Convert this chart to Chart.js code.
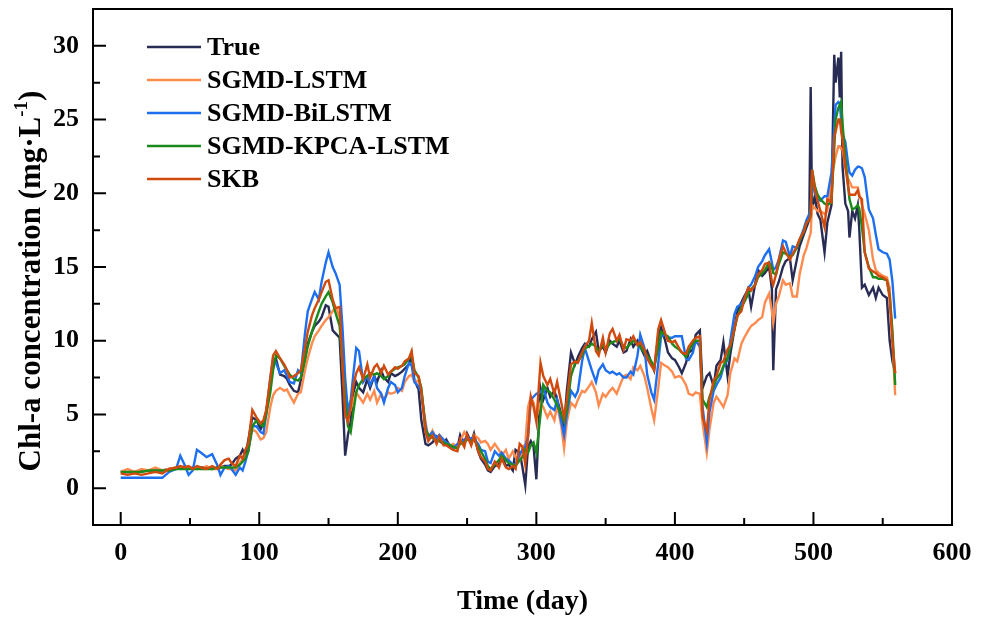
<!DOCTYPE html>
<html>
<head>
<meta charset="utf-8">
<title>Chl-a prediction</title>
<script src="https://cdn.jsdelivr.net/npm/chart.js@4.4.1/dist/chart.umd.min.js"></script>
<style>
  html, body { margin: 0; padding: 0; background: #fff; }
  #wrap { width: 986px; height: 619px; position: relative; }
</style>
</head>
<body>
<div id="wrap"><canvas id="chl-chart"></canvas></div>
<script>
// days of the test period
const days = [
  0, 5, 10, 15, 20, 25, 30, 35, 40,
  43, 46, 49, 52, 55, 58, 62, 66, 70, 72, 75, 78, 80, 83, 86, 88, 90, 92,
  95, 98, 101, 103, 105, 108, 110, 112, 115, 118, 120, 122, 125, 128, 130,
  133, 135, 138, 140, 143, 145, 148, 150, 153, 155, 158, 160, 162, 164, 166, 168, 170, 172, 175, 178, 180,
  183, 185, 188, 190, 193, 195, 198, 200, 203, 205, 208, 210, 212, 215, 217, 220, 222, 225, 228, 230,
  233, 235, 238, 240, 243, 245, 248, 250, 253, 255, 258, 260, 263, 265, 267, 270, 273, 275, 278, 280, 283, 285, 288, 290,
  292, 294, 296, 298, 300, 303, 305, 308, 310, 313, 315, 318, 320, 322, 325, 328, 330, 333, 335, 338, 340, 343, 345, 348, 350,
  353, 355, 358, 360, 363, 365, 368, 370, 373, 375, 378, 380, 383, 385, 388, 390, 393, 395, 398, 400, 403, 405, 408, 410, 413, 415, 418,
  420, 423, 425, 428, 430, 433, 435, 438, 440, 443, 445, 448, 450, 453, 455, 458, 460, 463, 465, 468, 470, 471, 473, 475, 478, 480, 483, 485, 488, 490, 493, 495, 497,
  498, 499, 501, 503, 505, 508, 510, 513, 515, 516, 518, 519, 520, 521, 523, 525, 526, 528, 530, 532, 533, 535, 537, 540, 543, 545, 547, 550, 553, 555, 557, 559
];

const trueValues = [
  1.1, 1.1, 1.1, 1.2, 1.2, 1.2, 1.2, 1.3, 1.3,
  1.4, 1.4, 1.3, 1.4, 1.3, 1.4, 1.4, 1.3, 1.4, 1.4, 1.5, 1.5, 1.6, 2.0, 2.2, 2.6, 2.2, 3.2,
  4.8, 4.6, 4.0, 4.4, 5.2, 7.0, 8.3, 8.8, 7.7, 7.6, 7.4, 7.0, 6.6, 6.5, 7.3,
  8.8, 9.8, 10.6, 11.0, 11.3, 11.6, 12.4, 12.3, 10.7, 10.5, 10.2, 6.5, 2.2, 3.6, 4.5, 6.5, 7.2, 6.8, 6.5, 7.4, 6.8,
  7.6, 7.2, 8.0, 7.5, 7.2, 7.8, 7.6, 7.7, 7.9, 8.1, 8.4, 9.0, 7.3, 6.7, 4.6, 3.0, 2.9, 3.1, 3.5, 3.2,
  3.0, 3.3, 2.8, 2.9, 2.7, 3.6, 3.0, 3.7, 3.1, 3.7, 2.5, 2.0, 1.6, 1.2, 1.1, 1.5, 1.6, 2.3, 1.5, 1.6, 1.2, 2.6, 2.4, 1.4,
  0.2, 2.8, 3.2, 2.8, 0.6, 6.8, 6.0, 6.8, 6.2, 6.6, 6.0, 5.0, 4.1, 6.6, 9.2, 8.4, 8.9, 9.5, 9.8, 9.6, 10.1, 10.6, 9.3, 9.6, 9.2,
  10.0, 9.8, 9.6, 10.0, 9.2, 9.3, 10.1, 9.6, 10.0, 9.6, 9.0, 9.3, 8.5, 8.0, 10.3, 10.9, 10.0, 9.2, 8.8, 8.7, 8.2, 7.8, 8.5, 9.2, 9.4, 10.4, 10.7,
  6.8, 7.6, 7.8, 6.9, 8.3, 8.7, 9.9, 7.6, 9.1, 10.8, 12.0, 12.6, 13.0, 13.5, 12.3, 13.9, 14.8, 14.4, 14.6, 15.0, 13.5, 8.0, 13.5, 14.0, 15.0, 15.4, 15.6, 14.1, 15.5, 16.4, 17.2, 17.7, 18.2,
  27.2, 18.9, 19.8, 18.6, 18.2, 16.0, 18.0, 19.2, 29.4, 27.5, 29.2, 26.5, 29.6, 21.8, 19.3, 18.8, 17.0, 18.8, 18.3, 19.2, 17.7, 13.6, 13.8, 13.1, 13.6, 12.9, 13.6, 13.1, 12.9, 10.0, 8.6, 7.8
];

const sgmdLstm = [
  1.1, 1.3, 1.1, 1.3, 1.2, 1.4, 1.2, 1.3, 1.4,
  1.3, 1.5, 1.4, 1.3, 1.4, 1.3, 1.5, 1.3, 1.3, 1.5, 1.4, 1.3, 1.3, 1.2, 1.7, 2.0, 2.2, 2.4,
  4.0, 3.8, 3.3, 3.4, 3.8, 5.5, 6.3, 6.6, 6.8, 6.6, 6.7, 6.3, 5.8, 6.4, 6.5,
  8.0, 8.8, 9.8, 10.3, 10.7, 11.0, 11.4, 11.6, 12.0, 12.3, 11.6, 8.5, 5.8, 4.8, 5.3, 6.0, 6.5, 6.2, 5.8, 6.4, 6.0,
  6.6, 5.8, 6.4, 6.0, 6.5, 6.4, 6.5, 6.8, 6.6, 7.2, 7.6, 7.7, 7.2, 7.3, 6.5, 4.5, 3.4, 3.9, 3.3, 3.6,
  3.2, 3.1, 2.9, 3.0, 2.8, 3.2, 3.8, 3.5, 3.0, 3.6, 3.4, 3.1, 3.2, 3.0, 2.6, 3.0, 2.6, 2.2, 2.6, 2.0, 2.5, 2.1, 1.9, 2.7,
  3.0, 5.5, 6.2, 5.8, 4.8, 5.8, 5.5, 4.8, 5.2, 4.6, 5.6, 4.2, 2.7, 4.5, 5.8, 5.5, 6.0, 6.6, 6.5, 6.9, 7.2, 6.5, 5.6, 6.4, 6.2,
  6.6, 6.8, 6.4, 6.9, 7.6, 7.7, 7.4, 8.2, 8.0, 8.3, 7.6, 6.8, 5.4, 4.6, 6.8, 8.5, 8.3, 8.2, 7.9, 7.5, 7.6, 7.5, 7.0, 6.4, 6.3, 6.5, 6.4,
  4.4, 2.4, 4.0, 5.8, 6.2, 5.8, 5.5, 6.3, 7.8, 8.8, 8.6, 9.8, 10.2, 10.7, 11.0, 11.2, 11.4, 11.6, 12.6, 13.2, 12.0, 11.2, 12.5, 13.0, 14.1, 13.8, 13.9, 13.0, 13.0, 14.5, 15.8, 16.3, 17.0,
  17.3, 19.2, 19.0, 18.8, 18.8, 18.6, 18.8, 21.0, 22.0, 22.5, 23.2, 23.2, 23.0, 23.0, 21.8, 21.0, 20.8, 20.4, 20.4, 20.4, 20.0, 19.2, 18.6, 17.5, 15.5, 14.8, 14.6, 14.4, 14.3, 13.6, 10.0, 6.3
];

const sgmdBiLstm = [
  0.7, 0.7, 0.7, 0.7, 0.7, 0.7, 0.7, 1.1, 1.3,
  2.2, 1.6, 0.9, 1.2, 2.6, 2.4, 2.1, 2.3, 1.5, 0.9, 1.4, 1.5, 1.3, 0.9, 1.4, 1.2, 1.8, 2.5,
  4.2, 4.2, 3.8, 3.7, 5.0, 7.5, 8.8, 8.5, 7.8, 8.0, 7.6, 7.2, 7.1, 8.0, 7.8,
  10.5, 12.0, 12.8, 13.3, 12.8, 14.0, 15.3, 16.0, 15.0, 14.6, 13.8, 11.0, 7.5, 5.2, 6.0, 7.8, 9.5, 9.3, 7.2, 7.6, 7.0,
  7.6, 6.8, 6.4, 5.8, 6.8, 7.2, 7.0, 6.5, 6.8, 7.6, 8.5, 8.3, 7.2, 6.9, 6.5, 4.2, 3.5, 3.8, 3.4, 3.6,
  3.3, 3.1, 2.9, 2.7, 3.0, 3.0, 3.3, 3.3, 3.4, 3.3, 3.0, 2.6, 2.5, 1.8, 1.7, 2.5, 2.2, 2.4, 2.0, 1.9, 1.6, 1.6, 2.3, 2.6,
  2.8, 3.5, 6.0, 6.2, 6.4, 6.5, 6.8, 5.8, 5.5, 5.3, 6.0, 4.5, 3.6, 5.0, 6.6, 6.2, 6.6, 8.6, 9.5, 8.6, 8.0, 7.2, 8.0, 8.4, 8.0,
  7.8, 7.9, 7.7, 7.8, 7.5, 7.5, 7.9, 7.7, 9.0, 10.4, 9.5, 7.7, 6.5, 6.0, 8.5, 10.3, 10.4, 10.2, 10.2, 10.3, 10.3, 10.3, 8.8, 8.7, 9.2, 10.0, 9.6,
  5.5, 3.1, 5.2, 6.6, 7.0, 7.5, 8.2, 8.7, 10.0, 11.8, 12.3, 12.5, 12.8, 13.6, 13.8, 14.4, 15.0, 15.4, 15.8, 16.2, 15.3, 14.8, 15.0, 15.5, 16.8, 16.7, 15.7, 16.4, 16.3, 16.8, 17.6, 18.2, 18.6,
  19.0, 21.0, 20.0, 19.6, 19.5, 19.8, 19.8, 21.4, 24.5, 26.0, 26.2, 26.1, 25.0, 24.0, 23.5, 22.0, 21.4, 21.2, 21.6, 21.8, 21.8, 21.7, 21.1, 18.9, 18.3, 17.2, 16.2, 16.0, 15.9, 15.5, 14.0, 11.5
];

const sgmdKpcaLstm = [
  1.1, 1.1, 1.1, 1.1, 1.2, 1.2, 1.2, 1.2, 1.3,
  1.3, 1.3, 1.3, 1.3, 1.3, 1.3, 1.3, 1.3, 1.4, 1.4, 1.4, 1.4, 1.4, 1.4, 1.6, 1.8, 2.0, 2.5,
  4.2, 4.6, 4.3, 4.2, 5.0, 6.5, 8.0, 9.0, 8.8, 8.3, 8.0, 7.7, 7.4, 7.3, 7.5,
  8.7, 9.6, 10.6, 11.2, 12.0, 12.5, 13.0, 13.3, 12.6, 11.9, 11.0, 8.5, 6.0, 4.2, 3.8, 5.2, 6.5, 7.0, 7.4, 7.6, 7.8,
  7.7, 7.8, 7.6, 7.4, 7.6, 7.9, 8.1, 8.2, 8.3, 8.4, 8.8, 9.0, 8.0, 7.5, 6.8, 4.0, 3.6, 3.4, 3.2, 3.2,
  3.1, 3.0, 2.9, 2.8, 2.7, 3.0, 3.1, 3.3, 3.2, 3.3, 2.8, 2.5, 2.0, 1.5, 1.3, 1.6, 1.9, 2.2, 1.9, 1.7, 1.6, 1.5, 1.9, 2.1,
  2.6, 2.4, 2.9, 3.1, 2.4, 5.0, 7.0, 6.6, 6.5, 6.0, 5.6, 5.0, 4.5, 5.3, 7.6, 8.5, 8.6, 9.0, 9.5, 9.6, 9.8, 9.6, 9.3, 9.7, 9.4,
  9.8, 9.9, 10.0, 10.1, 9.6, 9.5, 9.8, 10.0, 9.8, 9.6, 9.2, 9.0, 8.6, 8.2, 9.5, 10.6, 10.4, 10.3, 9.8, 9.6, 9.4, 9.2, 8.9, 9.3, 9.8, 10.0, 10.0,
  6.0, 5.5, 6.2, 6.9, 7.4, 7.8, 8.3, 8.8, 9.6, 10.8, 11.6, 12.3, 12.6, 13.2, 13.5, 13.8, 14.3, 14.6, 14.8, 15.3, 15.0, 14.6, 14.5, 15.2, 16.0, 15.9, 15.7, 15.8, 16.3, 16.8, 17.4, 18.0, 18.2,
  18.5, 21.6, 20.5, 19.9, 19.6, 19.3, 19.2, 19.4, 23.0, 25.0, 25.8, 26.0, 26.2, 24.7, 22.5, 20.5, 19.6, 18.9, 19.0, 19.2, 19.0, 17.7, 16.0, 15.0, 14.3, 14.3, 14.2, 14.2, 14.1, 13.1, 10.7, 7.0
];

const skb = [
  1.0, 0.9, 1.0, 0.9, 1.0, 1.1, 1.0, 1.3, 1.4,
  1.5, 1.4, 1.5, 1.3, 1.5, 1.4, 1.3, 1.5, 1.3, 1.6, 1.9, 2.0, 1.7, 1.5, 2.2, 2.0, 2.6, 3.0,
  5.3, 4.8, 4.4, 4.6, 5.3, 7.5, 9.0, 9.3, 8.8, 8.4, 8.0, 7.5, 7.6, 7.8, 8.0,
  9.5, 10.6, 11.7, 12.2, 12.8, 13.3, 14.0, 14.1, 12.8, 12.2, 12.3, 8.5, 5.0, 4.5, 5.5, 7.0, 7.8, 8.2, 7.4, 8.4, 7.5,
  8.2, 8.4, 7.8, 8.3, 7.7, 7.9, 8.2, 8.1, 8.3, 8.6, 8.8, 9.3, 7.8, 7.6, 6.6, 3.8, 3.2, 3.6, 3.0, 3.5,
  2.9, 2.9, 2.7, 2.6, 2.5, 3.3, 2.8, 3.6, 2.9, 3.5, 2.5, 2.1, 1.8, 1.3, 1.2, 1.8, 1.4, 2.0, 1.4, 1.3, 1.5, 1.3, 3.0, 2.8,
  1.6, 3.5, 6.2, 5.5, 4.5, 8.5, 7.6, 7.0, 7.4, 6.4, 7.2, 5.8, 4.8, 6.0, 8.4, 8.6, 8.5, 9.2, 9.6, 10.0, 11.2, 9.3, 9.0, 10.2, 9.2,
  10.5, 10.8, 10.0, 10.4, 9.4, 10.1, 10.0, 10.3, 9.7, 9.9, 9.4, 8.8, 8.3, 8.0, 10.8, 11.4, 10.5, 10.0, 9.9, 10.0, 9.5, 9.2, 9.1, 9.6, 10.0, 10.2, 10.3,
  4.8, 3.9, 6.0, 7.3, 7.6, 8.5, 8.6, 9.4, 9.7, 10.8, 11.7, 12.0, 12.8, 13.6, 13.4, 13.8, 14.5, 14.8, 15.2, 15.3, 14.0, 13.8, 14.5, 15.5, 16.4, 16.0, 15.5, 15.9, 16.4, 16.9, 17.4, 18.0, 18.2,
  18.5, 21.6, 20.3, 19.5, 18.8, 17.7, 19.6, 19.4, 23.8, 24.2, 25.0, 25.0, 24.2, 23.6, 21.8, 20.5, 19.9, 19.9, 19.9, 20.2, 19.8, 19.6, 16.0, 14.9, 14.7, 14.6, 14.4, 14.3, 14.1, 12.9, 10.0, 7.8
];

const seriesNames = ["True", "SGMD-LSTM", "SGMD-BiLSTM", "SGMD-KPCA-LSTM", "SKB"];
const seriesColors = ["#282c55", "#ff8b4e", "#1d6ff0", "#1b8a1b", "#cf4a0c"];
const seriesValues = [trueValues, sgmdLstm, sgmdBiLstm, sgmdKpcaLstm, skb];

// tick positions (labels every 100 days / 5 units, minor ticks in between)
const xTicks = [0, 50, 100, 150, 200, 250, 300, 350, 400, 450, 500, 550, 600];
const yTicks = [0, 2.5, 5, 7.5, 10, 12.5, 15, 17.5, 20, 22.5, 25, 27.5, 30];

const serif = "'Liberation Serif', 'Times New Roman', serif";

function toPoints(values) {
  return days.map((d, i) => ({ x: d, y: values[i] }));
}

// frame, inward ticks, legend and y title
const decorations = {
  id: "decorations",
  afterDraw(chart) {
    const { ctx, chartArea: a, scales } = chart;
    ctx.save();
    ctx.strokeStyle = "#000";
    ctx.lineWidth = 2;
    ctx.strokeRect(a.left, a.top, a.right - a.left, a.bottom - a.top);

    ctx.beginPath();
    scales.x.ticks.forEach((t) => {
      if (t.value >= 600) return;
      const px = scales.x.getPixelForValue(t.value);
      const len = t.value % 100 === 0 ? 13 : 7;
      ctx.moveTo(px, a.bottom);
      ctx.lineTo(px, a.bottom - len);
    });
    scales.y.ticks.forEach((t) => {
      const py = scales.y.getPixelForValue(t.value);
      const len = t.value % 5 === 0 ? 13 : 7;
      ctx.moveTo(a.left, py);
      ctx.lineTo(a.left + len, py);
    });
    ctx.stroke();

    // legend
    ctx.font = "bold 26px " + serif;
    ctx.textBaseline = "middle";
    ctx.textAlign = "left";
    chart.data.datasets.forEach((ds, i) => {
      const yy = a.top + 38 + i * 33;
      ctx.strokeStyle = ds.borderColor;
      ctx.lineWidth = 2.4;
      ctx.beginPath();
      ctx.moveTo(a.left + 54, yy);
      ctx.lineTo(a.left + 108, yy);
      ctx.stroke();
      ctx.fillStyle = "#000";
      ctx.fillText(ds.label, a.left + 114, yy + 1);
    });

    // y axis title with superscript
    const main1 = "Chl-a concentration (mg\u00B7L";
    const sup = "-1";
    const main2 = ")";
    const bigFont = "bold 31px " + serif;
    const smallFont = "bold 19px " + serif;
    ctx.font = bigFont;
    const w1 = ctx.measureText(main1).width;
    const w3 = ctx.measureText(main2).width;
    ctx.font = smallFont;
    const w2 = ctx.measureText(sup).width;
    const total = w1 + w2 + w3;
    ctx.translate(32, (a.top + a.bottom) / 2 + 14);
    ctx.rotate(-Math.PI / 2);
    ctx.fillStyle = "#000";
    ctx.textBaseline = "middle";
    let cx = -total / 2;
    ctx.font = bigFont;
    ctx.fillText(main1, cx, 0);
    cx += w1;
    ctx.font = smallFont;
    ctx.fillText(sup, cx, -10);
    cx += w2;
    ctx.font = bigFont;
    ctx.fillText(main2, cx, 0);
    ctx.restore();
  }
};

new Chart(document.getElementById("chl-chart"), {
  type: "line",
  data: {
    datasets: seriesNames.map((name, i) => ({
      label: name,
      data: toPoints(seriesValues[i]),
      borderColor: seriesColors[i],
      backgroundColor: seriesColors[i],
      borderWidth: 2.4,
      pointRadius: 0,
      tension: 0,
      order: seriesNames.length - 1 - i,
    })),
  },
  options: {
    responsive: true,
    maintainAspectRatio: false,
    animation: false,
    layout: { padding: { left: 54, right: 34, top: 9, bottom: 0 } },
    plugins: {
      legend: { display: false },
      tooltip: { enabled: false },
    },
    scales: {
      x: {
        type: "linear",
        min: -20,
        max: 600,
        grid: { display: false, drawTicks: false },
        border: { display: false },
        afterBuildTicks: (s) => { s.ticks = xTicks.map((v) => ({ value: v })); },
        afterFit: (s) => { s.height = 94; s.paddingLeft = 0; s.paddingRight = 0; },
        ticks: {
          padding: 13,
          color: "#000",
          font: { family: serif, size: 26, weight: "bold" },
          maxRotation: 0,
          autoSkip: false,
          callback: (v) => (v % 100 === 0 ? String(v) : ""),
        },
        title: {
          display: true,
          text: "Time (day)",
          color: "#000",
          font: { family: serif, size: 28, weight: "bold" },
          padding: { top: 14, bottom: 0 },
        },
      },
      y: {
        min: -2.5,
        max: 32.5,
        grid: { display: false, drawTicks: false },
        border: { display: false },
        afterBuildTicks: (s) => { s.ticks = yTicks.map((v) => ({ value: v })); },
        afterFit: (s) => { s.width = 39; s.paddingTop = 0; s.paddingBottom = 0; },
        ticks: {
          padding: 14,
          color: "#000",
          font: { family: serif, size: 26, weight: "bold" },
          autoSkip: false,
          callback: (v) => (v % 5 === 0 ? String(v) : ""),
        },
      },
    },
  },
  plugins: [decorations],
});
</script>
</body>
</html>
